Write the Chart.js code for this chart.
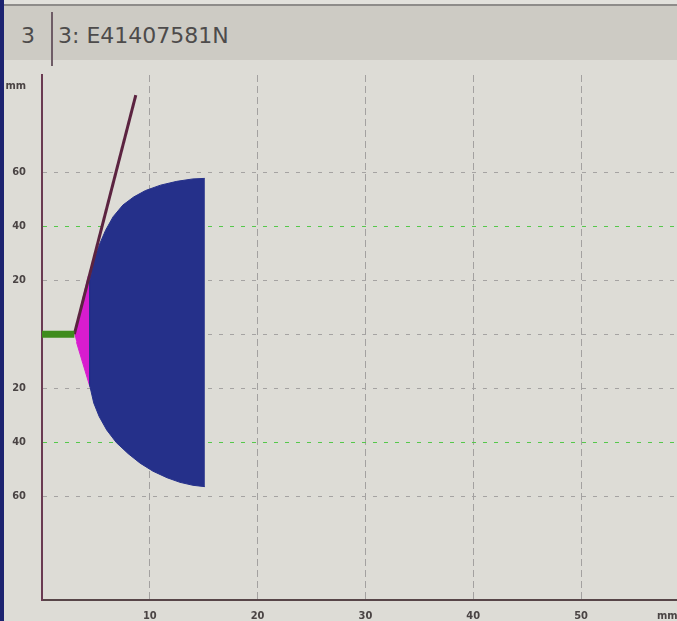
<!DOCTYPE html>
<html lang="en">
<head>
<meta charset="UTF-8" />
<title>3: E41407581N</title>
<script src="https://cdn.jsdelivr.net/npm/chart.js"></script>
<style>
  body { margin: 0; width: 677px; height: 621px; overflow: hidden; position: relative; background: #dddcd6; font-family: "DejaVu Sans", sans-serif; }
  .header { position: absolute; left: 0; top: 0; width: 677px; height: 60px; background: #cdcbc4; border-top: 4px solid #e2e1dc; box-sizing: border-box; }
  .header::before { content: ""; position: absolute; left: 0; top: 0; width: 677px; height: 2px; background: #8e8c8a; }
  .sep { position: absolute; left: 51px; top: 8px; width: 2px; height: 54px; background: #6e5c66; }
  .num { position: absolute; left: 21px; top: 21px; font-size: 22px; line-height: 22px; color: #4d4b4b; }
  .name { position: absolute; left: 58px; top: 21px; font-size: 22px; line-height: 22px; color: #4d4b4b; }
  .bezel { position: absolute; left: 0; top: 0; width: 4px; height: 621px; background: #1c2370; }
  #chart { position: absolute; left: 0; top: 60px; }
</style>
</head>
<body>
  <div class="header">
    <div class="num">3</div>
    <div class="sep"></div>
    <div class="name">3: E41407581N</div>
  </div>
  <canvas id="chart" width="677" height="561"></canvas>
  <div class="bezel"></div>

<script>
  // axis ticks (mm)
  const xTicks = [10, 20, 30, 40, 50];
  const yTicks = [-60, -40, -20, 0, 20, 40, 60];
  const unitLabel = 'mm';
  const xUnitAt = 58;
  const yUnitAt = 92;

  // green stem along the centre line
  const stemX = [0, 3.0];
  const stemY = [0, 0];

  // dark probe line
  const probeX = [3.0, 8.7];
  const probeY = [0, 88.5];

  // magenta wedge at the tip
  const wedgeX = [3.0, 4.3, 4.8, 4.8, 4.45, 3.8, 3.2];
  const wedgeY = [0, 21.6, 21.6, -19.6, -19.6, -11, -3];

  // blue dome outline
  const domeX = [15.1, 14.0, 12.5, 11.0, 9.6, 8.5, 7.5, 6.6, 5.9, 5.25, 4.75, 4.45, 4.4, 4.45, 4.8, 5.3, 6.0, 6.9, 8.0, 9.1, 10.3, 11.6, 12.8, 14.0, 15.1];
  const domeY = [57.7, 57.5, 56.6, 55.2, 53.2, 50.8, 47.8, 43.5, 38.5, 32.5, 26.5, 20, 0, -19, -25.5, -30.5, -35.5, -40.2, -44.3, -47.8, -50.8, -53.2, -54.9, -56, -56.5];

  const toPoints = (xs, ys) => xs.map((x, i) => ({ x: x, y: ys[i] }));

  const tickFont = { family: 'DejaVu Sans Condensed', size: 11, weight: 'bold' };
  const clear = 'rgba(0,0,0,0)';

  new Chart(document.getElementById('chart'), {
    type: 'scatter',
    data: {
      datasets: [
        { label: 'stem', data: toPoints(stemX, stemY), showLine: true, borderColor: '#3f8c1d', borderWidth: 7, borderCapStyle: 'butt', pointRadius: 0, order: 0 },
        { label: 'probe', data: toPoints(probeX, probeY), showLine: true, borderColor: '#5b2340', borderWidth: 3, pointRadius: 0, order: 1 },
        { label: 'dome', data: toPoints(domeX, domeY), showLine: true, fill: 'shape', backgroundColor: '#25308a', borderColor: '#25308a', borderWidth: 1, pointRadius: 0, order: 2 },
        { label: 'wedge', data: toPoints(wedgeX, wedgeY), showLine: true, fill: 'shape', backgroundColor: '#d81ccf', borderColor: '#d81ccf', borderWidth: 1, pointRadius: 0, order: 3 }
      ]
    },
    options: {
      responsive: false,
      animation: false,
      layout: { padding: { top: 15, left: 0, right: 0, bottom: 0 } },
      plugins: { legend: { display: false }, tooltip: { enabled: false } },
      scales: {
        x: {
          type: 'linear',
          min: 0,
          max: 58.9,
          afterBuildTicks: s => { s.ticks = xTicks.concat([xUnitAt]).map(v => ({ value: v })); },
          afterFit: s => { s.height = 21; s.paddingLeft = 0; s.paddingRight = 0; },
          grid: {
            drawTicks: false,
            lineWidth: 1,
            color: c => (c.tick && c.tick.value === xUnitAt) ? clear : '#a3a1a0'
          },
          border: { color: '#574548', width: 2, dash: [7, 4] },
          ticks: {
            autoSkip: false,
            maxRotation: 0,
            padding: 10,
            color: '#4a4444',
            font: tickFont,
            callback: v => v === xUnitAt ? unitLabel : v
          }
        },
        y: {
          type: 'linear',
          min: -98.5,
          max: 96,
          afterBuildTicks: s => { s.ticks = yTicks.concat([yUnitAt]).map(v => ({ value: v })); },
          afterFit: s => { s.width = 42; s.paddingTop = 0; s.paddingBottom = 0; },
          grid: {
            drawTicks: false,
            lineWidth: 1,
            color: c => {
              if (!c.tick || c.tick.value === yUnitAt) return clear;
              return Math.abs(c.tick.value) === 40 ? '#55c84a' : '#a5a3a2';
            }
          },
          border: { color: '#6a3a52', width: 2, dash: [4, 7] },
          ticks: {
            autoSkip: false,
            padding: 16,
            color: '#4a4444',
            font: tickFont,
            callback: v => v === yUnitAt ? unitLabel : (v === 0 ? '' : Math.abs(v))
          }
        }
      }
    }
  });
</script>
</body>
</html>
